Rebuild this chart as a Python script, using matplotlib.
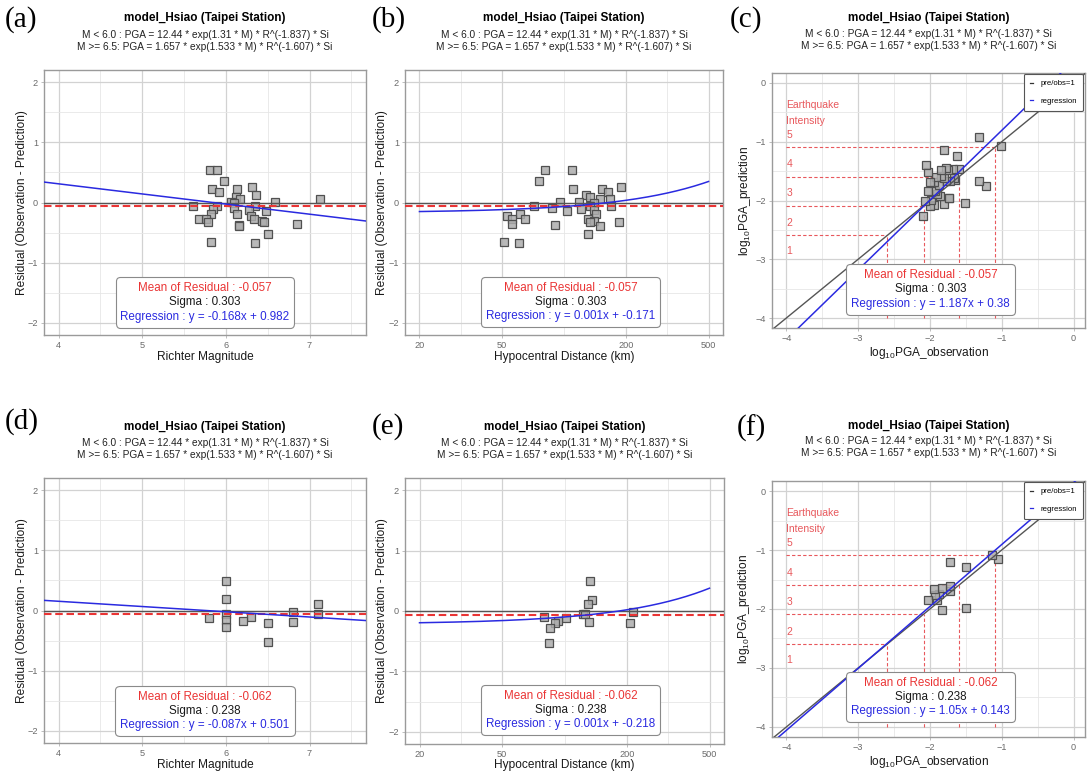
import numpy as np
import matplotlib
matplotlib.use("Agg")
import matplotlib.pyplot as plt
from matplotlib.lines import Line2D
from matplotlib.offsetbox import TextArea, VPacker, AnchoredOffsetbox
from matplotlib.ticker import FixedLocator, NullFormatter, FixedFormatter

plt.rcParams['font.family'] = ['Liberation Sans', 'DejaVu Sans']
plt.rcParams['mathtext.default'] = 'regular'

W, H = 1091, 774

title = "model_Hsiao (Taipei Station)"
formula_small = "M < 6.0 : PGA = 12.44 * exp(1.31 * M) * R^(-1.837) * Si"
formula_large = "M >= 6.5: PGA = 1.657 * exp(1.533 * M) * R^(-1.607) * Si"

# all records (top row)
mag_all = [5.806, 5.895, 5.974, 6.313, 6.134, 5.830, 5.914, 6.357, 6.126, 6.166,
           7.122, 6.066, 6.592, 6.102, 5.895, 6.350, 5.603, 6.093, 5.843, 6.281,
           6.477, 5.827, 6.134, 6.305, 6.341, 5.675, 5.767, 6.433, 5.783, 6.461,
           6.852, 6.154, 6.158, 6.501, 5.819, 6.349]
dist_all = [80.9, 109.5, 76.0, 189, 110.7, 152, 163, 127.6, 133.9, 149,
            167, 117.8, 96.0, 140, 168, 71.9, 132.9, 87.9, 120.8, 138.9,
            103.7, 61.5, 142.6, 53.1, 64.9, 130.9, 56.1, 140, 133.9, 184,
            56.1, 90.2, 149, 130, 51.2, 60.4]
resid_all = [0.540, 0.540, 0.359, 0.254, 0.232, 0.221, 0.177, 0.127, 0.099, 0.056,
             0.056, 0.006, 0.006, -0.016, -0.050, -0.060, -0.066, -0.093, -0.110, -0.132,
             -0.149, -0.187, -0.187, -0.220, -0.269, -0.269, -0.269, -0.302, -0.319, -0.330,
             -0.358, -0.369, -0.396, -0.523, -0.650, -0.677]
obs_all = [-1.22, -1.51, -1.31, -1.80, -1.73, -1.74, -2.09, -1.95, -2.00, -1.014,
           -1.86, -1.65, -1.98, -1.90, -1.67, -1.72, -2.07, -1.93, -1.77, -1.60,
           -1.88, -1.81, -2.03, -1.68, -1.95, -1.85, -1.75, -1.91, -2.00, -1.78,
           -1.84, -1.62, -1.32, -2.03, -2.05, -1.81]

# subset (bottom row)
mag_sub = [6.00, 6.00, 7.10, 6.80, 6.00, 7.10, 6.30, 5.80, 6.00, 6.20, 6.80, 6.50, 6.00, 6.50]
dist_sub = [132.4, 136.4, 130.0, 212.8, 123.1, 125.0, 80.0, 101.8, 93.5, 131.0, 207.5, 89.5, 85.3, 83.8]
resid_sub = [0.489, 0.183, 0.111, -0.022, -0.056, -0.056, -0.106, -0.122, -0.161, -0.178,
             -0.194, -0.206, -0.278, -0.522]
obs_sub = [-1.498, -1.828, -1.047, -1.721, -1.140, -1.90, -1.721, -1.874, -1.930, -2.033,
           -1.833, -1.502, -1.940, -1.721]

# summary statistics and fitted regressions (slope, intercept)
stats_all = dict(mean=-0.057, sigma=0.303, mag=(-0.168, 0.982), dist=(0.00104, -0.171), pga=(1.187, 0.38))
stats_sub = dict(mean=-0.062, sigma=0.238, mag=(-0.087, 0.501), dist=(0.00119, -0.218), pga=(1.05, 0.143))

# CWB intensity boundaries in gal
intensity_gal = [2.5, 8, 25, 80]
intensity_names = ["1", "2", "3", "4", "5"]

RED = '#ea3535'
BLUE = '#2a2ae0'
SOFT_RED = '#e8585c'
GREY_PT = (0.68, 0.68, 0.68, 0.85)


def px_axes(fig, left, top, right, bottom):
    return fig.add_axes([left / W, 1 - bottom / H, (right - left) / W, (bottom - top) / H])


def base_style(ax):
    for s in ax.spines.values():
        s.set_color('#9a9a9a')
        s.set_linewidth(1.0)
    ax.grid(True, which='major', color='#d2d2d2', lw=0.9)
    ax.grid(True, which='minor', color='#e6e6e6', lw=0.6)
    ax.set_axisbelow(True)
    ax.tick_params(which='major', length=2.5, width=0.6, color='#b3b3b3',
                   labelsize=6.6, labelcolor='#6a6a6a', pad=1.8)
    ax.tick_params(which='minor', length=0)


def label_axes(ax, xlabel, ylabel, xlab_y, ylab_x, box_px):
    left, top, right, bottom = box_px
    ax.set_xlabel(xlabel, fontsize=8.6, color='#1a1a1a', va='center')
    ax.set_ylabel(ylabel, fontsize=8.6, color='#1a1a1a', va='center')
    ax.xaxis.set_label_coords(0.5, -(xlab_y - bottom) / (bottom - top))
    ax.yaxis.set_label_coords((ylab_x - left) / (right - left), 0.5)


def stats_box(ax, xc, yc, st, key):
    slope, icpt = st[key]
    rows = [(f"Mean of Residual : {st['mean']:g}", RED),
            (f"Sigma : {st['sigma']:g}", '#1a1a1a'),
            (f"Regression : y = {round(slope, 3):g}x + {round(icpt, 3):g}", BLUE)]
    areas = [TextArea(t, textprops=dict(color=c, size=8.4)) for t, c in rows]
    pack = VPacker(children=areas, align='center', pad=0, sep=1.6)
    box = AnchoredOffsetbox(loc='center', child=pack, pad=0.42, borderpad=0, frameon=True,
                            bbox_to_anchor=(xc, yc), bbox_transform=ax.transAxes,
                            prop=dict(size=8.4))
    box.patch.set_boxstyle('round,pad=0,rounding_size=0.35')
    box.patch.set_edgecolor('#8a8a8a')
    box.patch.set_linewidth(0.8)
    box.set_zorder(6)
    ax.add_artist(box)


def header(fig, box_px, letter, letter_xy, ys):
    xc = (box_px[0] + box_px[2]) / 2 / W
    fig.text(xc, 1 - ys[0] / H, title, ha='center', va='center', fontsize=8.5, fontweight='bold')
    fig.text(xc, 1 - ys[1] / H, formula_small, ha='center', va='center', fontsize=7.3, color='#222222')
    fig.text(xc, 1 - ys[2] / H, formula_large, ha='center', va='center', fontsize=7.3, color='#222222')
    fig.text(letter_xy[0] / W, 1 - letter_xy[1] / H, f"({letter})", ha='left', va='center',
             fontsize=21, family='Liberation Serif')


def draw_points(ax, x, y):
    ax.plot(x, y, 's', ms=5.8, mfc=GREY_PT, mec='#505050', mew=0.9, ls='none', zorder=3)


def mag_panel(ax, mag, resid, st):
    base_style(ax)
    draw_points(ax, mag, resid)
    ax.axhline(0, color='#555555', lw=1.0, zorder=4)
    ax.axhline(st['mean'], color=RED, lw=1.5, ls=(0, (3.6, 1.8)), zorder=4)
    slope, icpt = st['mag']
    ax.axline((0, icpt), slope=slope, color=BLUE, lw=1.1, zorder=4)
    ax.set_xlim(3.825, 7.675)
    ax.set_ylim(-2.2, 2.2)
    ax.xaxis.set_major_locator(FixedLocator([4, 5, 6, 7]))
    ax.xaxis.set_minor_locator(FixedLocator([4.5, 5.5, 6.5, 7.5]))
    ax.yaxis.set_major_locator(FixedLocator([-2, -1, 0, 1, 2]))
    ax.yaxis.set_minor_locator(FixedLocator([-1.5, -0.5, 0.5, 1.5]))


def dist_panel(ax, dist, resid, st):
    base_style(ax)
    ax.set_xscale('log')
    draw_points(ax, dist, resid)
    ax.axhline(0, color='#555555', lw=1.0, zorder=4)
    ax.axhline(st['mean'], color=RED, lw=1.5, ls=(0, (3.6, 1.8)), zorder=4)
    slope, icpt = st['dist']
    xs = np.geomspace(20, 500, 200)
    ax.plot(xs, slope * xs + icpt, color=BLUE, lw=1.1, zorder=4)
    lo, hi = np.log10([20, 500])
    pad = 0.05 * (hi - lo)
    ax.set_xlim(10 ** (lo - pad), 10 ** (hi + pad))
    ax.set_ylim(-2.2, 2.2)
    ticks = [20, 50, 200, 500]
    ax.xaxis.set_major_locator(FixedLocator(ticks))
    ax.xaxis.set_major_formatter(FixedFormatter([str(t) for t in ticks]))
    ax.xaxis.set_minor_locator(FixedLocator([10 ** 1.5, 100, 10 ** 2.5]))
    ax.xaxis.set_minor_formatter(NullFormatter())
    ax.yaxis.set_major_locator(FixedLocator([-2, -1, 0, 1, 2]))
    ax.yaxis.set_minor_locator(FixedLocator([-1.5, -0.5, 0.5, 1.5]))


def pga_panel(ax, obs, resid, st):
    base_style(ax)
    obs = np.asarray(obs)
    pred = obs - np.asarray(resid)
    thr = np.log10(np.array(intensity_gal) / 980.0)
    for t in thr:
        ax.plot([-4, t], [t, t], color=SOFT_RED, lw=0.8, ls=(0, (3, 2)), zorder=2)
        ax.plot([t, t], [-4, t], color=SOFT_RED, lw=0.8, ls=(0, (3, 2)), zorder=2)
    label_y = [thr[0] - 0.27] + [t + 0.21 for t in thr]
    for name, y in zip(intensity_names, label_y):
        ax.text(-4, y, name, color=SOFT_RED, fontsize=7.5, ha='left', va='center')
    ax.text(-4, -0.37, "Earthquake", color=SOFT_RED, fontsize=7.5, ha='left', va='center')
    ax.text(-4, -0.64, "Intensity", color=SOFT_RED, fontsize=7.5, ha='left', va='center')
    draw_points(ax, obs, pred)
    ax.axline((0, 0), slope=1, color='#555555', lw=1.0, zorder=4)
    slope, icpt = st['pga']
    ax.axline((0, icpt), slope=slope, color=BLUE, lw=1.1, zorder=4)
    ax.set_xlim(-4.2, 0.16)
    ax.set_ylim(-4.17, 0.17)
    ticks = [-4, -3, -2, -1, 0]
    minor = [-3.5, -2.5, -1.5, -0.5]
    ax.xaxis.set_major_locator(FixedLocator(ticks))
    ax.xaxis.set_minor_locator(FixedLocator(minor))
    ax.yaxis.set_major_locator(FixedLocator(ticks))
    ax.yaxis.set_minor_locator(FixedLocator(minor))
    handles = [Line2D([], [], color='#333333', lw=0.9), Line2D([], [], color=BLUE, lw=0.9)]
    leg = ax.legend(handles, ["pre/obs=1", "regression"], loc='upper right',
                    bbox_to_anchor=(1.006, 1.012), fontsize=5.6, handlelength=0.45,
                    handletextpad=0.9, labelspacing=1.3, borderpad=0.8, frameon=True,
                    fancybox=True, framealpha=1, edgecolor='#555555')
    leg.get_frame().set_linewidth(0.8)
    leg.set_zorder(7)


fig = plt.figure(figsize=(W / 100, H / 100), dpi=100)

resid_label = "Residual (Observation - Prediction)"
obs_label = "log$_{10}$PGA_observation"
pred_label = "log$_{10}$PGA_prediction"

rows = [
    dict(mag=mag_all, dist=dist_all, resid=resid_all, obs=obs_all, st=stats_all,
         boxes=[(44, 70, 366, 335), (405, 70, 723, 335), (772, 73, 1085, 328)],
         letters=[('a', (5, 20)), ('b', (372, 20)), ('c', (730, 20))],
         heads=[(18, 35, 47), (18, 35, 47), (18, 34, 46)],
         xlab=[357, 357, 353], ylab=[22, 382, 745],
         stat_pos=[(0.5, 0.123), (0.521, 0.125), (0.506, 0.151)]),
    dict(mag=mag_sub, dist=dist_sub, resid=resid_sub, obs=obs_sub, st=stats_sub,
         boxes=[(44, 478, 366, 743), (405, 478, 724, 744), (772, 481, 1085, 737)],
         letters=[('d', (5, 422)), ('e', (372, 427)), ('f', (737, 428))],
         heads=[(427, 443, 455), (427, 443, 455), (426, 441, 453)],
         xlab=[765, 765, 762], ylab=[22, 382, 744],
         stat_pos=[(0.5, 0.12), (0.519, 0.127), (0.506, 0.156)]),
]

for row in rows:
    axes = [px_axes(fig, *b) for b in row['boxes']]
    mag_panel(axes[0], row['mag'], row['resid'], row['st'])
    dist_panel(axes[1], row['dist'], row['resid'], row['st'])
    pga_panel(axes[2], row['obs'], row['resid'], row['st'])
    xlabels = ["Richter Magnitude", "Hypocentral Distance (km)", obs_label]
    ylabels = [resid_label, resid_label, pred_label]
    keys = ['mag', 'dist', 'pga']
    for i, ax in enumerate(axes):
        label_axes(ax, xlabels[i], ylabels[i], row['xlab'][i], row['ylab'][i], row['boxes'][i])
        stats_box(ax, *row['stat_pos'][i], row['st'], keys[i])
        letter, xy = row['letters'][i]
        header(fig, row['boxes'][i], letter, xy, row['heads'][i])

fig.savefig("out.png", dpi=100, facecolor='white')
